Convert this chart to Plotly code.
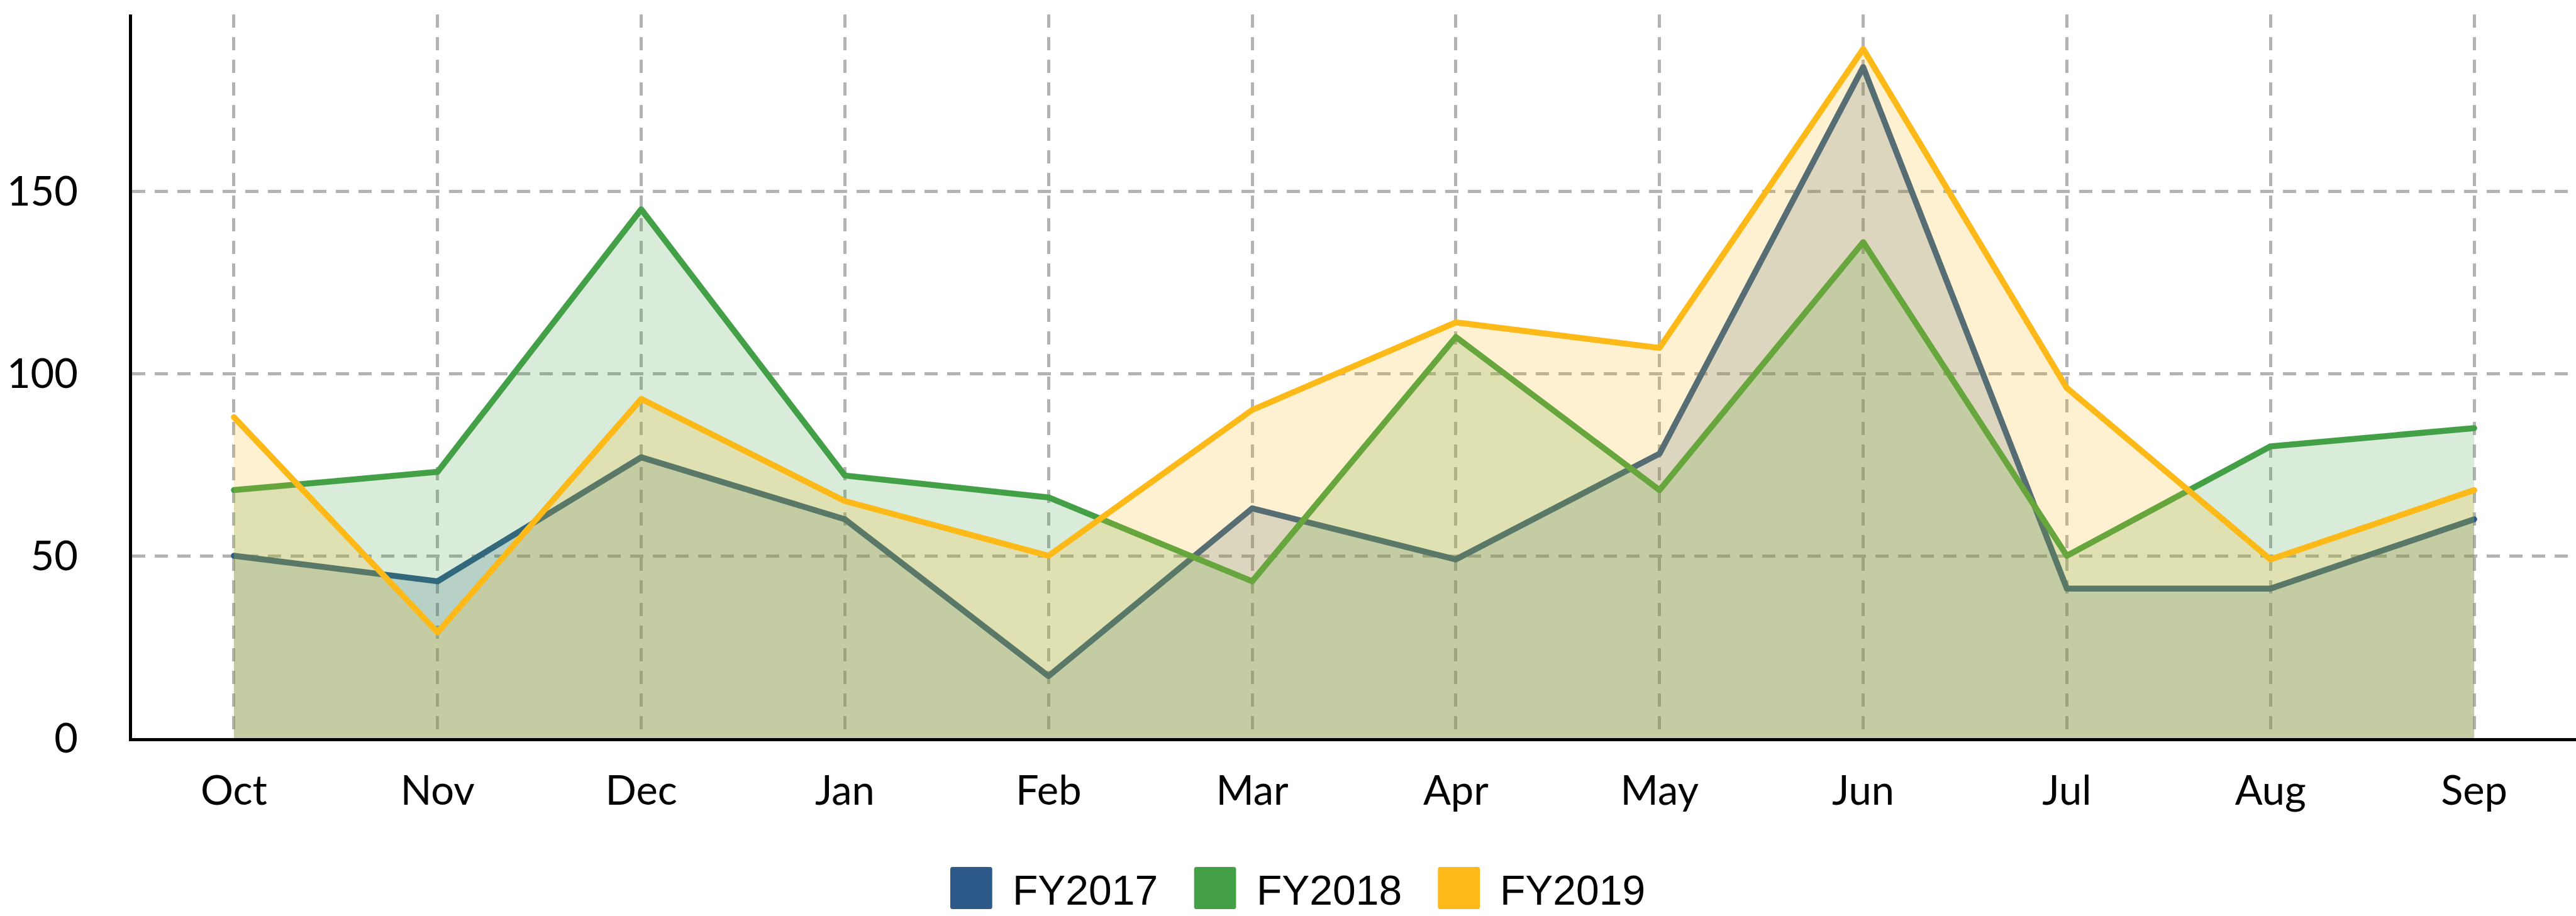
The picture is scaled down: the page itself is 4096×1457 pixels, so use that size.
import plotly.graph_objects as go

# ---------------- data ----------------
months = ["Oct", "Nov", "Dec", "Jan", "Feb", "Mar", "Apr", "May", "Jun", "Jul", "Aug", "Sep"]
fy2017 = [50, 43, 77, 60, 17, 63, 49, 78, 184, 41, 41, 60]
fy2018 = [68, 73, 145, 72, 66, 43, 110, 68, 136, 50, 80, 85]
fy2019 = [88, 29, 93, 65, 50, 90, 114, 107, 189, 96, 49, 68]
series_names = ["FY2017", "FY2018", "FY2019"]
y_tick_vals = [0, 50, 100, 150]

# ---------------- style ----------------
line_colors = ["#2E5A8A", "#43A047", "#FCB918"]
fill_colors = ["rgba(46,90,138,0.2)", "rgba(67,160,71,0.2)", "rgba(252,185,24,0.2)"]

W, H = 4096, 1457
ML, MR, MT, MB = 210, 0, 23, 283
PW, PH = W - ML - MR, H - MT - MB

GRID = "#B3B3B3"
TICK_FONT = dict(family="Lato", size=65, color="#000000")
LEG_FONT = dict(family="Liberation Sans, Arial", size=66, color="#000000")

fig = go.Figure()
for name, vals, lc, fc in zip(series_names, [fy2017, fy2018, fy2019], line_colors, fill_colors):
    fig.add_trace(go.Scatter(
        x=months, y=vals, name=name, mode="lines",
        fill="tozeroy", fillcolor=fc,
        line=dict(color=lc, width=9.5),
        showlegend=False,
    ))

fig.update_layout(
    width=W, height=H,
    margin=dict(l=ML, r=MR, t=MT, b=MB, pad=0),
    paper_bgcolor="white", plot_bgcolor="white",
    showlegend=False,
)
fig.update_xaxes(
    type="category", range=[-0.5, len(months) - 0.5],
    showline=True, linecolor="#000000", linewidth=5,
    showgrid=True, gridcolor=GRID, gridwidth=5, griddash="21px,15px",
    zeroline=False, ticks="", tickfont=TICK_FONT, ticklabelstandoff=23,
)
fig.update_yaxes(
    range=[0, max(fy2017 + fy2018 + fy2019) * 1.05],
    tickmode="array", tickvals=y_tick_vals,
    showline=True, linecolor="#000000", linewidth=5,
    showgrid=True, gridcolor=GRID, gridwidth=5, griddash="21px,15px",
    zeroline=False, ticks="", tickfont=TICK_FONT, ticklabelstandoff=68,
)

# ---------------- custom legend (rounded swatches) ----------------
def px_x(px):
    return (px - ML) / PW

def px_y(py):
    return (H - MB - py) / PH

LEG_LEFT, LEG_STEP, SW, SW_TOP, SW_BOT, TXT_GAP, RAD = 1511, 387.7, 66.7, 1379, 1446, 98, 3.5
for i, (name, lc) in enumerate(zip(series_names, line_colors)):
    l = LEG_LEFT + i * LEG_STEP
    r = l + SW
    x0, x1 = px_x(l), px_x(r)
    yb, yt = px_y(SW_BOT), px_y(SW_TOP)
    rx, ry = RAD / PW, RAD / PH
    path = (f"M {x0+rx},{yt} L {x1-rx},{yt} Q {x1},{yt} {x1},{yt-ry} "
            f"L {x1},{yb+ry} Q {x1},{yb} {x1-rx},{yb} L {x0+rx},{yb} "
            f"Q {x0},{yb} {x0},{yb+ry} L {x0},{yt-ry} Q {x0},{yt} {x0+rx},{yt} Z")
    fig.add_shape(type="path", path=path, xref="paper", yref="paper",
                  fillcolor=lc, line=dict(width=0), layer="above")
    fig.add_annotation(text=name, x=px_x(l + TXT_GAP), y=px_y((SW_TOP + SW_BOT) / 2 + 3),
                       xref="paper", yref="paper", xanchor="left", yanchor="middle",
                       showarrow=False, font=LEG_FONT, borderpad=0)

post = """
document.body.style.margin='0';
document.body.style.padding='0';
document.documentElement.style.overflow='hidden';
document.querySelectorAll('.scatterlayer path.js-line').forEach(function(p){
  p.style.strokeLinejoin='round'; p.style.strokeLinecap='round';
});
"""

fig.write_html("out.html", post_script=post, config={"displayModeBar": False})
